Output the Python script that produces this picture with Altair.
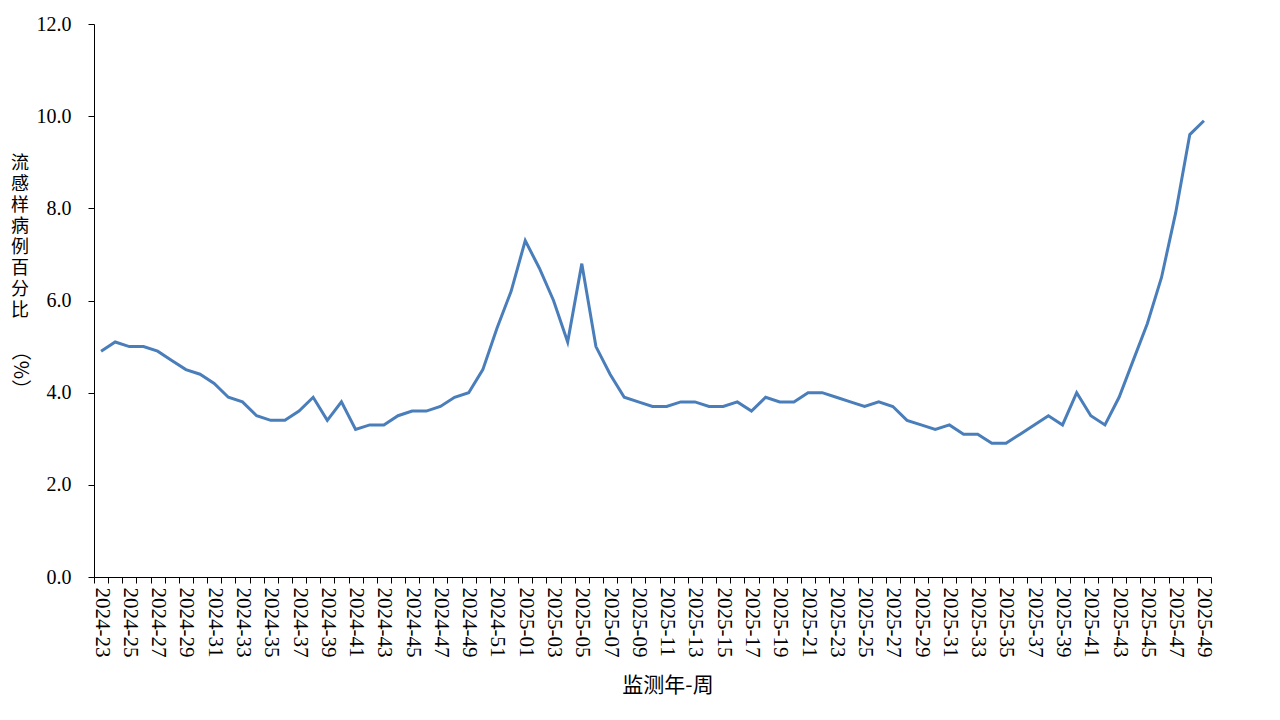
import altair as alt
import pandas as pd

# categories: surveillance year-week
weeks = [f"2024-{w}" for w in range(23, 53)] + [f"2025-{w:02d}" for w in range(1, 50)]

# ILI percentage (%)
pct = [
    4.9, 5.1, 5.0, 5.0, 4.9, 4.7, 4.5, 4.4, 4.2, 3.9,   # 2024-23..32
    3.8, 3.5, 3.4, 3.4, 3.6, 3.9, 3.4, 3.8, 3.2, 3.3,   # 2024-33..42
    3.3, 3.5, 3.6, 3.6, 3.7, 3.9, 4.0, 4.5, 5.4, 6.2,   # 2024-43..52
    7.3, 6.7, 6.0, 5.1, 6.8, 5.0, 4.4, 3.9, 3.8, 3.7,   # 2025-01..10
    3.7, 3.8, 3.8, 3.7, 3.7, 3.8, 3.6, 3.9, 3.8, 3.8,   # 2025-11..20
    4.0, 4.0, 3.9, 3.8, 3.7, 3.8, 3.7, 3.4, 3.3, 3.2,   # 2025-21..30
    3.3, 3.1, 3.1, 2.9, 2.9, 3.1, 3.3, 3.5, 3.3, 4.0,   # 2025-31..40
    3.5, 3.3, 3.9, 4.7, 5.5, 6.5, 7.9, 9.6, 9.9,        # 2025-41..49
]

y_ticks = [0, 2, 4, 6, 8, 10, 12]
y_title_chars = ["流", "感", "样", "病", "例", "百", "分", "比"]
y_title_unit = ["（%）"]
x_title = ["监测年-周"]

df = pd.DataFrame({"week": weeks, "pct": pct})

line = alt.Chart(df).mark_line(color="#4A7EBB", strokeWidth=3).encode(
    x=alt.X(
        "week:N",
        sort=weeks,
        bandPosition=0.5,
        scale=alt.Scale(type="band", paddingInner=0, paddingOuter=0),
        axis=alt.Axis(
            title=None,
            labelAngle=90,
            labelAlign="left",
            labelBaseline="middle",
            labelExpr="toNumber(slice(datum.label, 5)) % 2 == 1 ? datum.label : ''",
            labelOverlap=False,
            tickBand="extent",
            tickSize=6,
            tickColor="black",
            domainColor="black",
            labelFont="Liberation Serif",
            labelFontSize=21,
            labelColor="black",
            labelPadding=4,
            grid=False,
        ),
    ),
    y=alt.Y(
        "pct:Q",
        scale=alt.Scale(domain=[0, 12], nice=False),
        axis=alt.Axis(
            title=None,
            values=y_ticks,
            format=".1f",
            tickSize=6,
            tickColor="black",
            domainColor="black",
            labelFont="Liberation Serif",
            labelFontSize=20,
            labelColor="black",
            labelPadding=17,
            grid=False,
        ),
    ),
)

ytitle = alt.Chart(pd.DataFrame({"t": ["\n".join(y_title_chars)]})).mark_text(
    font="Noto Sans CJK SC", fontSize=18, lineBreak="\n", lineHeight=21,
    align="center", baseline="top", color="black",
).encode(text="t:N", x=alt.value(-74), y=alt.value(131))

yunit = alt.Chart(pd.DataFrame({"t": y_title_unit})).mark_text(
    font="Noto Sans CJK SC", fontSize=20, angle=90,
    align="center", baseline="middle", color="black",
).encode(text="t:N", x=alt.value(-74), y=alt.value(346))

xtitle = alt.Chart(pd.DataFrame({"t": x_title})).mark_text(
    font="Noto Sans CJK SC", fontSize=21,
    align="center", baseline="middle", color="black",
).encode(text="t:N", x=alt.value(574), y=alt.value(662))

chart = (
    alt.layer(line, ytitle, yunit, xtitle)
    .properties(
        width=1117,
        height=553,
        autosize=alt.AutoSizeParams(type="none"),
        padding={"left": 86, "top": 16, "right": 60, "bottom": 120},
        background="white",
    )
    .configure_view(stroke=None)
)

chart.save("out.html", embed_options={"renderer": "svg", "actions": False})
